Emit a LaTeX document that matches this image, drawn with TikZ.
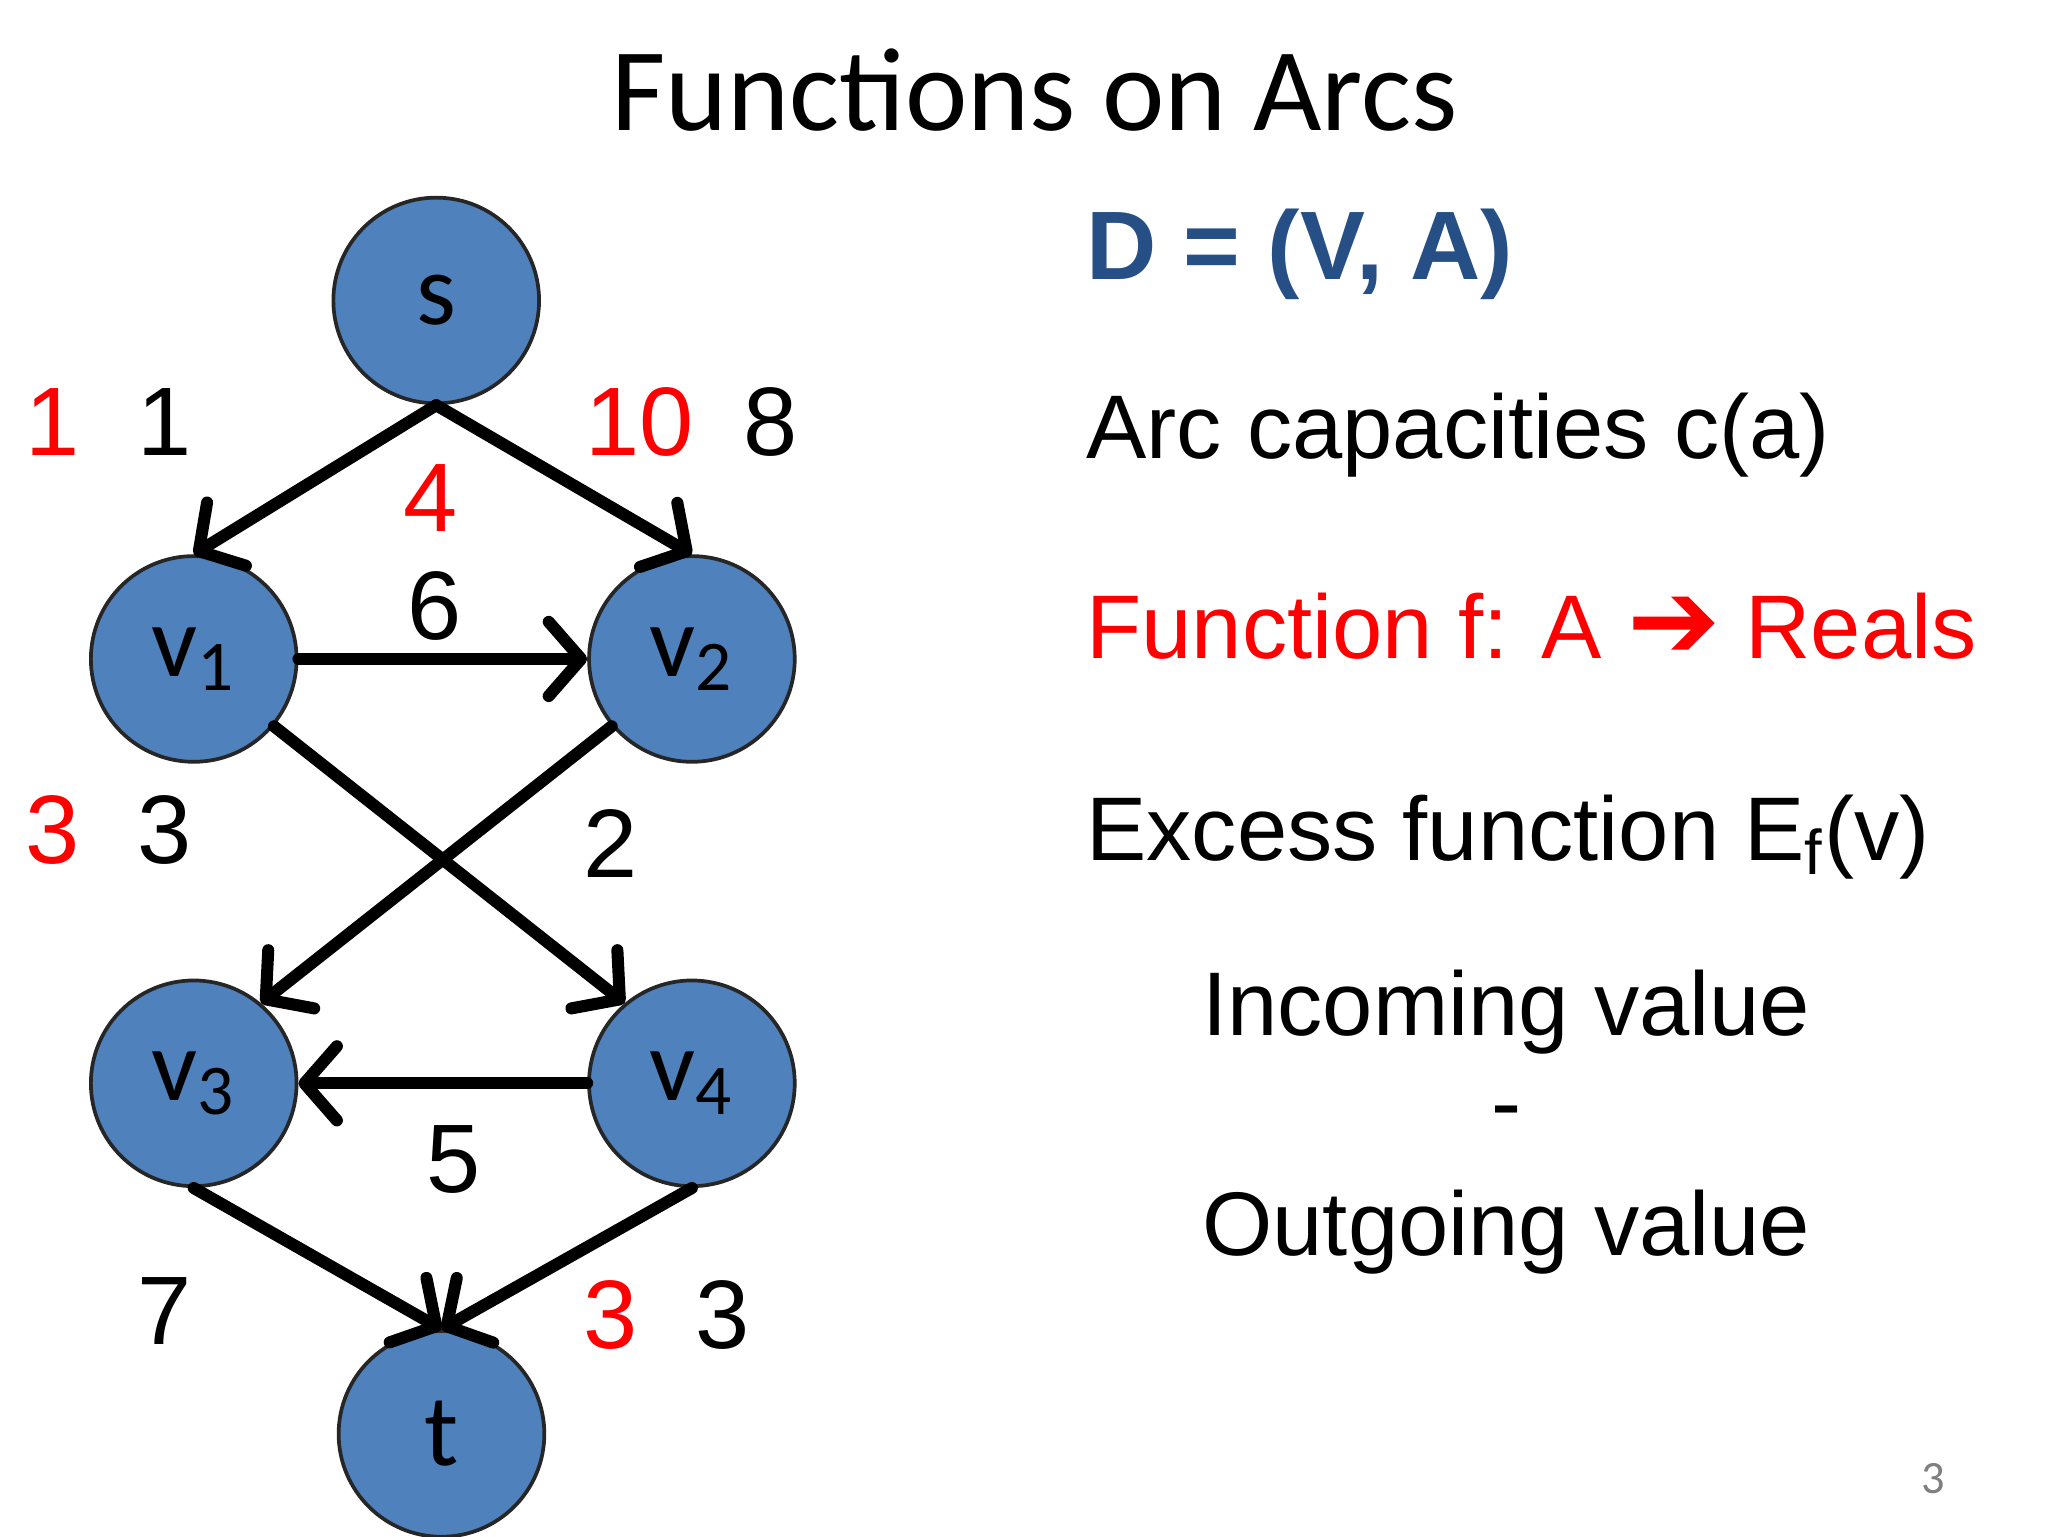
\documentclass[tikz,border=0pt]{standalone}
\usepackage{fontspec}
\setmainfont{Carlito}
\newfontfamily\arial{Liberation Sans}
\newfontfamily\symfont{DejaVu Sans}
\usetikzlibrary{arrows.meta}
\definecolor{nodeblue}{HTML}{4F81BD}
\definecolor{dblue}{HTML}{254F85}
\definecolor{myred}{HTML}{FF0000}
\begin{document}
\begin{tikzpicture}[x=0.01cm,y=-0.01cm,
  vert/.style={circle,fill=nodeblue,draw=black!85,line width=0.8pt,minimum size=1.56cm,inner sep=0pt,font=\fontsize{22}{24}\selectfont},
  arc/.style={line width=2.6pt,line cap=round,-{Straight Barb[length=7pt,width=16pt,line width=2.6pt,round]}},
  num/.style={font=\arial\fontsize{21}{24}\selectfont},
  rnum/.style={num,text=myred},
  rtf/.style={font=\arial\fontsize{19.5}{24}\selectfont}]
\useasboundingbox (0,0) rectangle (1554,1166);
\node[font=\fontsize{25.5}{30}\selectfont] (title) at (785,68) {Functions on Arcs};
\node[vert] (s) at (331,228) {s};
\node[vert] (v1) at (147,500) {v\textsubscript{1}};
\node[vert] (v2) at (525,500) {v\textsubscript{2}};
\node[vert] (v3) at (147,822) {v\textsubscript{3}};
\node[vert] (v4) at (525,822) {v\textsubscript{4}};
\node[vert] (t) at (335,1088) {t};
\draw[arc] (s.south) -- (v1.north);
\draw[arc] (s.south) -- (v2.north);
\draw[arc] (v1) -- (v2);
\draw[arc] (v1.-40) -- (v4.130);
\draw[arc] (v2.-140) -- (v3.50);
\draw[arc] (v4) -- (v3);
\draw[arc] (v3.south) -- (t.north);
\draw[arc] (v4.south) -- (t.north);
\node[rnum] (l1) at (40,320) {1};
\node[num] (l2) at (125,320) {1};
\node[rnum] (l3) at (485,320) {10};
\node[num] (l4) at (585,320) {8};
\node[rnum] (l5) at (327,378) {4};
\node[num] (l6) at (330,460) {6};
\node[rnum] (l7) at (40,630) {3};
\node[num] (l8) at (125,630) {3};
\node[num] (l9) at (463,640) {2};
\node[num] (l10) at (344,880) {5};
\node[num] (l11) at (125,995) {7};
\node[rnum] (l12) at (463,998) {3};
\node[num] (l13) at (548,998) {3};
\node[anchor=west,text=dblue,font=\arial\fontsize{21}{26}\selectfont\bfseries] (d) at (812,193) {D = (V, A)};
\node[rtf,anchor=west] (cap) at (812,330) {Arc capacities c(a)};
\node[rtf,anchor=west,text=myred] (fn) at (812,475) {Function f: A {\symfont\fontsize{24}{24}\selectfont ➔} Reals};
\node[rtf,anchor=west] (ex) at (812,635) {Excess function E\textsubscript{f}(v)};
\node[rtf] (in) at (1143,768) {Incoming value};
\node[rtf] (mi) at (1143,850) {-};
\node[rtf] (out) at (1143,935) {Outgoing value};
\node[text=gray,font=\fontsize{10}{12}\selectfont] (pg) at (1467,1122) {3};
\end{tikzpicture}
\end{document}
